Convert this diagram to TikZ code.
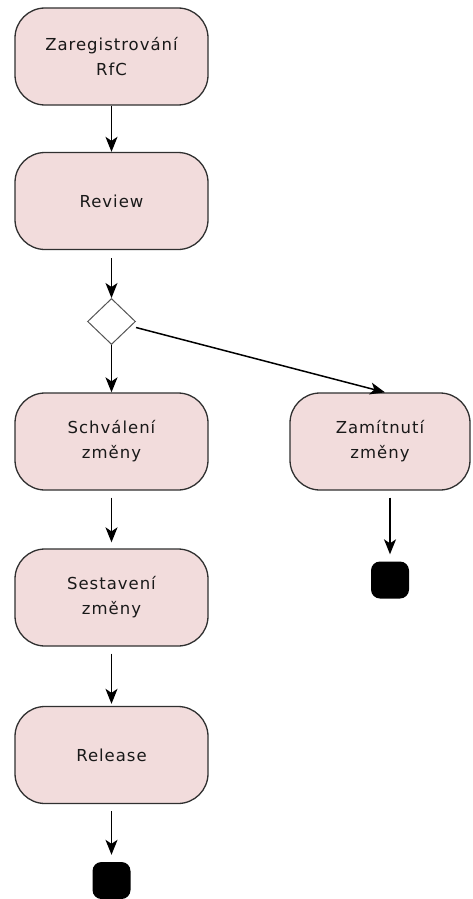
\documentclass[tikz,border=0pt]{standalone}
\usepackage{fontspec}
\newfontfamily\labfont[LetterSpace=6]{DejaVu Sans}
\usetikzlibrary{shapes.geometric,arrows.meta}
\definecolor{boxfill}{HTML}{F2DCDC}
\definecolor{boxdraw}{HTML}{303030}
\definecolor{diadraw}{HTML}{555555}
\begin{document}
\begin{tikzpicture}[x=1pt,y=-1pt,
  act/.style={draw=boxdraw, line width=1.3pt, fill=boxfill, rounded corners=30pt,
    minimum width=193pt, minimum height=97pt, inner sep=0pt, align=center,
    font=\labfont\fontsize{16.5}{25}\selectfont, text=black!90},
  actr/.style={act, minimum width=180pt},
  flow/.style={line width=1.5pt, draw=black, -{Stealth[length=15pt,width=12pt,inset=4pt]}},
  choice/.style={diamond, draw=diadraw, line width=1pt, fill=white, minimum width=48pt, minimum height=46pt, inner sep=0pt},
  final/.style={rectangle, fill=black, rounded corners=9pt, minimum width=38pt, minimum height=37pt, inner sep=0pt}]
\useasboundingbox (0,0) rectangle (473,899);
\node[act] (reg) at (111.5,56.5) {Zaregistrování\\RfC};
\node[act] (rev) at (111.5,201) {Review};
\node[choice] (dia) at (111.5,321.5) {};
\node[act] (sch) at (111.5,441.5) {Schválení\\změny};
\node[actr] (zam) at (380,441.5) {Zamítnutí\\změny};
\node[act] (ses) at (111.5,597.5) {Sestavení\\změny};
\node[act] (rel) at (111.5,755) {Release};
\node[final] (endr) at (390,580) {};
\node[final] (endl) at (111.5,880.5) {};
\draw[flow] (reg.south) -- (rev.north);
\draw[flow, shorten <=8pt] (rev.south) -- (dia.north);
\draw[flow] (dia.south) -- (sch.north);
\draw[flow] ([yshift=-6pt]dia.east) -- ([xshift=5pt]zam.north);
\draw[flow, shorten <=7pt, shorten >=6pt] (sch.south) -- (ses.north);
\draw[flow, shorten <=7pt, shorten >=2pt] (ses.south) -- (rel.north);
\draw[flow, shorten <=7pt, shorten >=7pt] (rel.south) -- (endl.north);
\draw[flow, shorten <=7pt, shorten >=7pt] (zam.south -| endr.north) -- (endr.north);
\end{tikzpicture}
\end{document}
